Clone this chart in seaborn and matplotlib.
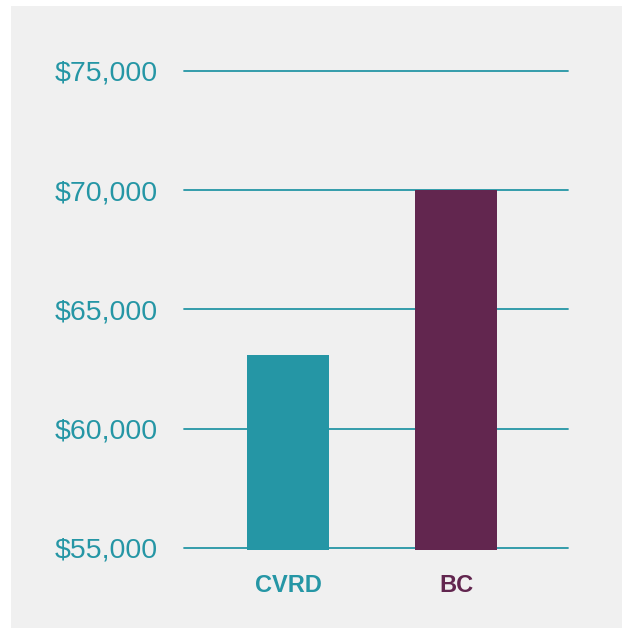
import pandas as pd
import matplotlib.pyplot as plt
import seaborn as sns
from matplotlib.patches import Rectangle
from matplotlib.ticker import FuncFormatter

regions = ["CVRD", "BC"]
income = [63100, 70000]
bar_colors = ["#2596a5", "#62264f"]
y_ticks = [55000, 60000, 65000, 70000, 75000]

data = pd.DataFrame({"Region": regions, "Income": income})

sns.set_theme(style="white")
plt.rcParams["font.family"] = ["Liberation Sans", "DejaVu Sans"]

fig = plt.figure(figsize=(6.22, 6.28), dpi=100, facecolor="white")
# grey panel behind the chart
panel = Rectangle((11 / 622, 0), 1 - 11 / 622, 1 - 6 / 628,
                  transform=fig.transFigure, facecolor="#f0f0f0",
                  edgecolor="none", zorder=-10)
fig.add_artist(panel)

ax = fig.add_axes([184 / 622, 78 / 628, 384 / 622, 479 / 628])
ax.set_facecolor("none")

sns.barplot(data=data, x="Region", y="Income", hue="Region",
            palette=bar_colors, width=0.49, saturation=1, legend=False, ax=ax,
            linewidth=0, edgecolor="none", zorder=3)

ax.set_ylim(54916, 75000)
ax.set_xlim(-0.619, 1.667)
ax.set_yticks(y_ticks)
ax.yaxis.set_major_formatter(FuncFormatter(lambda v, p: f"${v:,.0f}"))
ax.grid(axis="y", color="#2596a5", linewidth=1.3)
for line in ax.get_ygridlines():
    line.set_clip_on(False)
ax.set_axisbelow(True)

for side in ["top", "right", "left", "bottom"]:
    ax.spines[side].set_visible(False)

ax.tick_params(axis="y", length=0, pad=19, labelsize=20.5, labelcolor="#2596a5")
ax.tick_params(axis="x", length=0, pad=17, labelsize=17)
for lbl, c in zip(ax.get_xticklabels(), bar_colors):
    lbl.set_color(c)
    lbl.set_fontweight("bold")

ax.set_xlabel("")
ax.set_ylabel("")

plt.savefig("out.png", dpi=100)
